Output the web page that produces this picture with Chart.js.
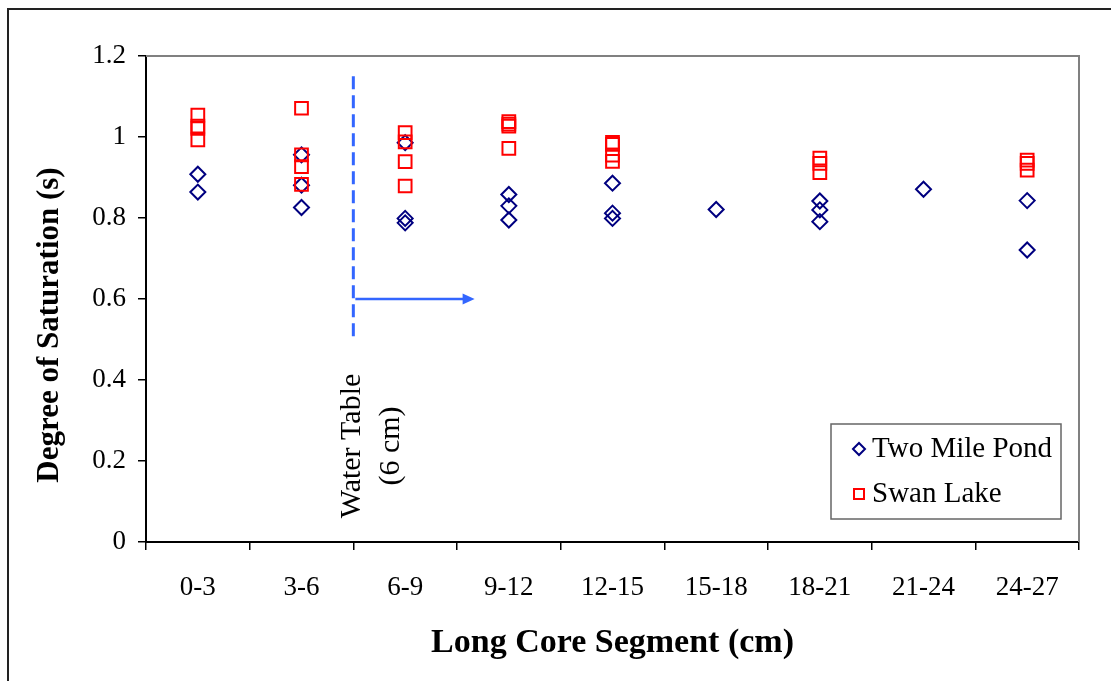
<!DOCTYPE html>
<html>
<head>
<meta charset="utf-8">
<script src="https://cdn.jsdelivr.net/npm/chart.js@4.4.1/dist/chart.umd.min.js"></script>
<style>
  html, body { margin: 0; padding: 0; background: #fff; }
  #wrap { position: relative; width: 1111px; height: 681px; }
</style>
</head>
<body>
<div id="wrap"><canvas id="myChart" width="1111" height="681"></canvas></div>
<script>
// Degree of saturation along the long core
var segments = ['0-3', '3-6', '6-9', '9-12', '12-15', '15-18', '18-21', '21-24', '24-27'];
var yTicks = [0, 0.2, 0.4, 0.6, 0.8, 1, 1.2];

// Two Mile Pond
var pondSegment = ['0-3', '0-3', '3-6', '3-6', '3-6', '6-9', '6-9', '6-9', '9-12', '9-12', '9-12',
                   '12-15', '12-15', '12-15', '15-18', '18-21', '18-21', '18-21', '21-24', '24-27', '24-27'];
var pondSaturation = [0.908, 0.864, 0.956, 0.881, 0.826, 0.986, 0.799, 0.788, 0.858, 0.830, 0.795,
                      0.886, 0.812, 0.799, 0.821, 0.842, 0.820, 0.791, 0.871, 0.843, 0.721];

// Swan Lake
var swanSegment = ['0-3', '0-3', '0-3', '0-3', '3-6', '3-6', '3-6', '3-6', '6-9', '6-9', '6-9', '6-9',
                   '9-12', '9-12', '9-12', '9-12', '12-15', '12-15', '12-15', '12-15',
                   '18-21', '18-21', '18-21', '24-27', '24-27', '24-27'];
var swanSaturation = [1.054, 1.027, 1.021, 0.993, 1.071, 0.956, 0.927, 0.883, 1.011, 0.988, 0.939, 0.879,
                      1.038, 1.032, 1.027, 0.972, 0.987, 0.982, 0.955, 0.940,
                      0.948, 0.935, 0.912, 0.943, 0.935, 0.918];

// water table marker: boundary between 3-6 and 6-9, dashed from top to bottom, arrow pointing down-core
var waterTableAt = 1.5;
var waterTableSpan = [1.15, 0.5];
var arrowLevel = 0.6;
var arrowEnd = 2.67;

var serif = "'Liberation Serif', 'Times New Roman', serif";
var pondColor = '#000080';
var swanColor = '#FF0000';
var markerBlue = '#3366FF';

function pairs(xs, ys) {
    var out = [];
    for (var i = 0; i < xs.length; i++) out.push({ x: xs[i], y: ys[i] });
    return out;
}

function diamond(ctx, x, y, r) {
    ctx.beginPath();
    ctx.moveTo(x - r, y);
    ctx.lineTo(x, y - r);
    ctx.lineTo(x + r, y);
    ctx.lineTo(x, y + r);
    ctx.closePath();
    ctx.stroke();
}

var extras = {
    id: 'extras',
    afterDraw: function(chart) {
        var ctx = chart.ctx;
        var area = chart.chartArea;
        var xs = chart.scales.x;
        var ys = chart.scales.y;

        ctx.save();

        // outer frame
        ctx.strokeStyle = '#222';
        ctx.lineWidth = 2;
        ctx.beginPath();
        ctx.moveTo(8, 681);
        ctx.lineTo(8, 9);
        ctx.lineTo(1111, 9);
        ctx.stroke();

        // plot area edge, top and right
        ctx.strokeStyle = '#808080';
        ctx.lineWidth = 2;
        ctx.beginPath();
        ctx.moveTo(area.left, area.top);
        ctx.lineTo(area.right, area.top);
        ctx.lineTo(area.right, area.bottom);
        ctx.stroke();

        // water table dashed line
        var wx = xs.getPixelForValue(waterTableAt);
        ctx.strokeStyle = markerBlue;
        ctx.lineWidth = 3;
        ctx.setLineDash([13, 6]);
        ctx.beginPath();
        ctx.moveTo(wx, ys.getPixelForValue(waterTableSpan[0]));
        ctx.lineTo(wx, ys.getPixelForValue(waterTableSpan[1]));
        ctx.stroke();
        ctx.setLineDash([]);

        // arrow
        var ay = ys.getPixelForValue(arrowLevel);
        var ax = xs.getPixelForValue(arrowEnd);
        ctx.lineWidth = 2.5;
        ctx.beginPath();
        ctx.moveTo(wx + 2, ay);
        ctx.lineTo(ax - 8, ay);
        ctx.stroke();
        ctx.fillStyle = markerBlue;
        ctx.beginPath();
        ctx.moveTo(ax, ay);
        ctx.lineTo(ax - 12, ay - 5.5);
        ctx.lineTo(ax - 12, ay + 5.5);
        ctx.closePath();
        ctx.fill();

        // water table label
        ctx.fillStyle = '#000';
        ctx.font = '30px ' + serif;
        ctx.textAlign = 'center';
        ctx.textBaseline = 'middle';
        ctx.save();
        ctx.translate(wx, 446);
        ctx.rotate(-Math.PI / 2);
        ctx.fillText('Water Table', 0, -1);
        ctx.fillText('(6 cm)', 0, 38);
        ctx.restore();

        // axis titles
        ctx.font = 'bold 34px ' + serif;
        ctx.fillText('Long Core Segment (cm)', (area.left + area.right) / 2, 643);
        ctx.font = 'bold 31px ' + serif;
        ctx.save();
        ctx.translate(50, 325);
        ctx.rotate(-Math.PI / 2);
        ctx.fillText('Degree of Saturation (s)', 0, 0);
        ctx.restore();

        // legend
        var lx = 831, ly = 424, lw = 230, lh = 95;
        ctx.fillStyle = '#fff';
        ctx.fillRect(lx, ly, lw, lh);
        ctx.strokeStyle = '#666';
        ctx.lineWidth = 1.5;
        ctx.strokeRect(lx, ly, lw, lh);

        ctx.strokeStyle = pondColor;
        ctx.lineWidth = 2;
        diamond(ctx, 859, 449, 6);
        ctx.strokeStyle = swanColor;
        ctx.strokeRect(859 - 5, 494 - 5, 10, 10);

        ctx.fillStyle = '#000';
        ctx.font = '29px ' + serif;
        ctx.textAlign = 'left';
        ctx.fillText('Two Mile Pond', 872, 449);
        ctx.fillText('Swan Lake', 872, 494);

        ctx.restore();
    }
};

var ctx = document.getElementById('myChart').getContext('2d');
var myChart = new Chart(ctx, {
    type: 'line',
    data: {
        labels: segments,
        datasets: [{
            label: 'Two Mile Pond',
            data: pairs(pondSegment, pondSaturation),
            showLine: false,
            pointStyle: 'rectRot',
            pointRadius: 7.5,
            pointBorderWidth: 2,
            borderColor: pondColor,
            backgroundColor: 'transparent',
            order: 2
        }, {
            label: 'Swan Lake',
            data: pairs(swanSegment, swanSaturation),
            showLine: false,
            pointStyle: 'rect',
            pointRadius: 9,
            pointBorderWidth: 2,
            borderColor: swanColor,
            backgroundColor: 'transparent',
            order: 1
        }]
    },
    options: {
        responsive: false,
        animation: false,
        layout: { padding: { left: 0, right: 32, top: 56, bottom: 0 } },
        plugins: {
            legend: { display: false },
            tooltip: { enabled: false }
        },
        scales: {
            x: {
                type: 'category',
                offset: true,
                afterFit: function(s) { s.height = 139; },
                border: { display: true, color: '#000', width: 2 },
                grid: { display: true, offset: true, drawOnChartArea: false, tickLength: 8, color: '#000', lineWidth: 1.5 },
                ticks: { color: '#000', padding: 22, maxRotation: 0, autoSkip: false, font: { family: serif, size: 27 } }
            },
            y: {
                min: 0,
                max: 1.2,
                afterFit: function(s) { s.width = 146; },
                afterBuildTicks: function(s) {
                    s.ticks = yTicks.map(function(v) { return { value: v }; });
                },
                border: { display: true, color: '#000', width: 2 },
                grid: { display: true, drawOnChartArea: false, tickLength: 8, color: '#000', lineWidth: 1.5 },
                ticks: {
                    color: '#000',
                    padding: 12,
                    font: { family: serif, size: 27 },
                    callback: function(v) { return String(+(+v).toFixed(1)); }
                }
            }
        }
    },
    plugins: [extras]
});
</script>
</body>
</html>
